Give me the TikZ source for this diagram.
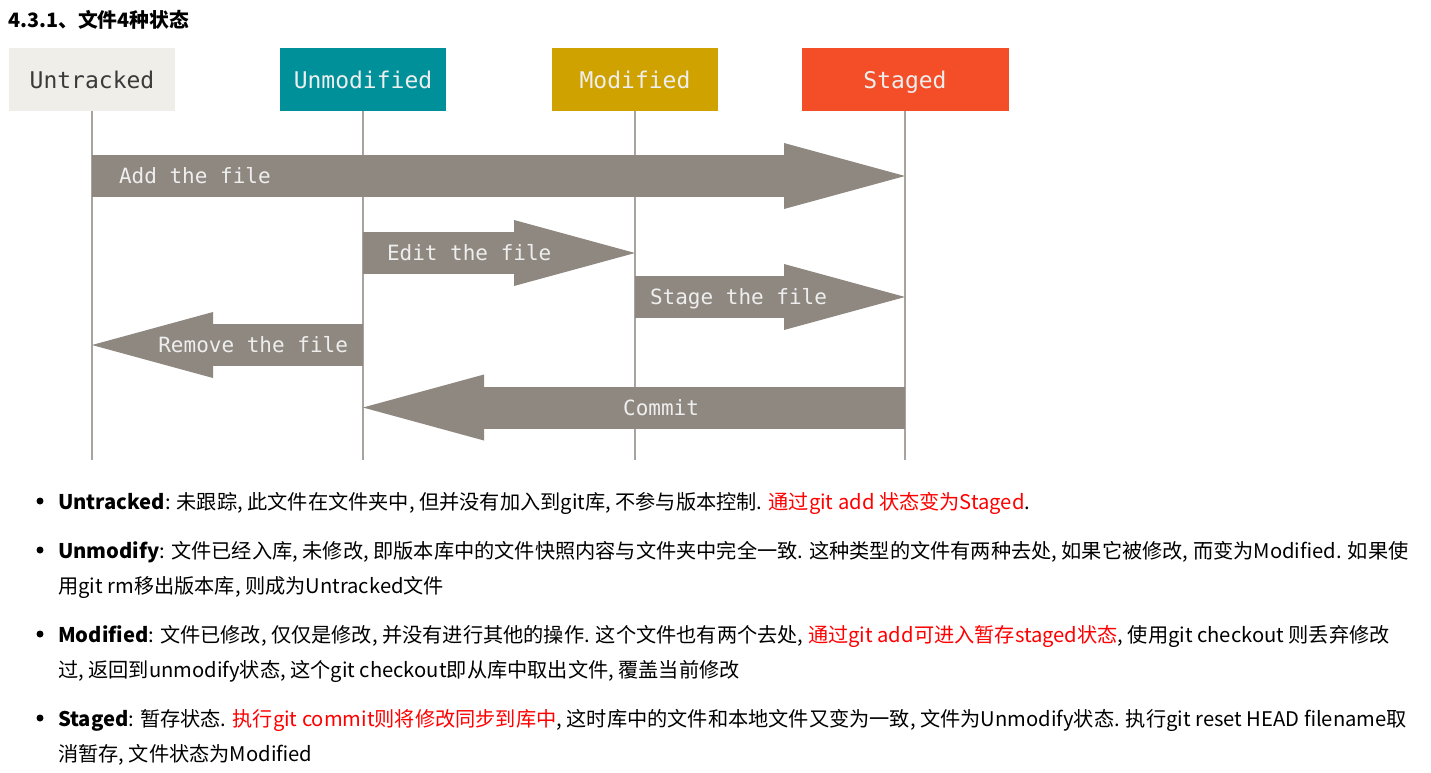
\documentclass[tikz,border=0pt]{standalone}
\usepackage{fontspec}
\usepackage{xcolor}
\usepackage{tikz}
\usetikzlibrary{arrows.meta}
\setmainfont{Noto Sans CJK SC}
\newfontfamily\statefont{DejaVu Sans Mono}

\begin{document}
\begin{tikzpicture}[x = 1pt,
                    y = -1pt]

  \useasboundingbox (0,0) rectangle (1431,773);

  % COLORS
  \definecolor{untrackedcolor}{HTML}{EFEEE8}
  \definecolor{unmodifiedcolor}{HTML}{00909A}
  \definecolor{modifiedcolor}{HTML}{CFA200}
  \definecolor{stagedcolor}{HTML}{F44E29}
  \definecolor{flowcolor}{HTML}{8F8881}
  \definecolor{lifecolor}{HTML}{A8A39C}
  \definecolor{labelcolor}{HTML}{EEEEEE}
  \definecolor{darklabel}{HTML}{3A3A3A}

  % STYLES
  \tikzstyle{statestyle} = [minimum height=63pt, inner sep=0pt, text=labelcolor, font=\statefont\fontsize{23}{27}\selectfont]
  \tikzstyle{lifestyle} = [draw=lifecolor, line width=2pt]
  \tikzstyle{flowstyle} = [draw=flowcolor, line width=42pt, -{Triangle[width=66pt, length=121pt, line width=0pt]}]
  \tikzstyle{flowlabel} = [text=labelcolor, inner sep=0pt, outer sep=0pt, font=\statefont\fontsize{21}{25}\selectfont]
  \tikzstyle{textstyle} = [anchor=west, inner sep=0pt, font=\fontsize{20.2}{24}\selectfont]
  \tikzstyle{bulletstyle} = [circle, fill=black, inner sep=0pt, minimum size=7pt]

  % TITLE
  \node[anchor=west, inner sep=0pt, font=\bfseries\fontsize{19.8}{23}\selectfont] (title) at (8,20) {4.3.1、文件4种状态};

  % STATES
  \node[statestyle, fill=untrackedcolor, text=darklabel, minimum width=166pt] (untracked) at (92,79.5) {Untracked};
  \node[statestyle, fill=unmodifiedcolor, minimum width=166pt] (unmodified) at (363,79.5) {Unmodified};
  \node[statestyle, fill=modifiedcolor, minimum width=166pt] (modified) at (635,79.5) {Modified};
  \node[statestyle, fill=stagedcolor, minimum width=207pt, text depth=0pt] (staged) at (905,79.5) {Staged};

  % LIFELINES
  \coordinate (bottom) at (0,460);
  \foreach \s in {untracked, unmodified, modified, staged}
    \draw[lifestyle] (\s) -- (\s.south |- bottom);

  % ROWS
  \coordinate (addrow) at (0,176);
  \coordinate (editrow) at (0,253);
  \coordinate (stagerow) at (0,297);
  \coordinate (removerow) at (0,345);
  \coordinate (commitrow) at (0,407.5);

  % FLOWS
  \draw[flowstyle] (untracked |- addrow) -- (staged |- addrow)
    node[flowlabel, pos=0, anchor=west, xshift=27pt] (addlabel) {Add the file};
  \draw[flowstyle] (unmodified |- editrow) -- (modified |- editrow)
    node[flowlabel, pos=0, anchor=west, xshift=24pt] (editlabel) {Edit the file};
  \draw[flowstyle] (modified |- stagerow) -- (staged |- stagerow)
    node[flowlabel, pos=0, anchor=west, xshift=15pt, yshift=-2pt] (stagelabel) {Stage the file};
  \draw[flowstyle] (unmodified |- removerow) -- (untracked |- removerow)
    node[flowlabel, pos=0, anchor=east, xshift=-15pt] (removelabel) {Remove the file};
  \draw[flowstyle] (staged |- commitrow) -- (unmodified |- commitrow)
    node[flowlabel, pos=0.45] (commitlabel) {Commit};

  % NOTES
  \node[bulletstyle] (dot1) at (40,501) {};
  \node[textstyle] (untrackednote) at (58,503) {\textbf{Untracked}: 未跟踪, 此文件在文件夹中, 但并没有加入到git库, 不参与版本控制. \textcolor{red}{通过git add 状态变为Staged}.};

  \node[bulletstyle] (dot2) at (40,550) {};
  \node[textstyle] (unmodifynote) at (58,552) {\textbf{Unmodify}: 文件已经入库, 未修改, 即版本库中的文件快照内容与文件夹中完全一致. 这种类型的文件有两种去处, 如果它被修改, 而变为Modified. 如果使};
  \node[textstyle] (unmodifynote2) at (58,587) {用git rm移出版本库, 则成为Untracked文件};

  \node[bulletstyle] (dot3) at (40,634) {};
  \node[textstyle] (modifiednote) at (58,636) {\textbf{Modified}: 文件已修改, 仅仅是修改, 并没有进行其他的操作. 这个文件也有两个去处, \textcolor{red}{通过git add可进入暂存staged状态}, 使用git checkout 则丢弃修改};
  \node[textstyle] (modifiednote2) at (58,671) {过, 返回到unmodify状态, 这个git checkout即从库中取出文件, 覆盖当前修改};

  \node[bulletstyle] (dot4) at (40,718) {};
  \node[textstyle] (stagednote) at (58,720) {\textbf{Staged}: 暂存状态. \textcolor{red}{执行git commit则将修改同步到库中}, 这时库中的文件和本地文件又变为一致, 文件为Unmodify状态. 执行git reset HEAD filename取};
  \node[textstyle] (stagednote2) at (58,755) {消暂存, 文件状态为Modified};

\end{tikzpicture}
\end{document}
